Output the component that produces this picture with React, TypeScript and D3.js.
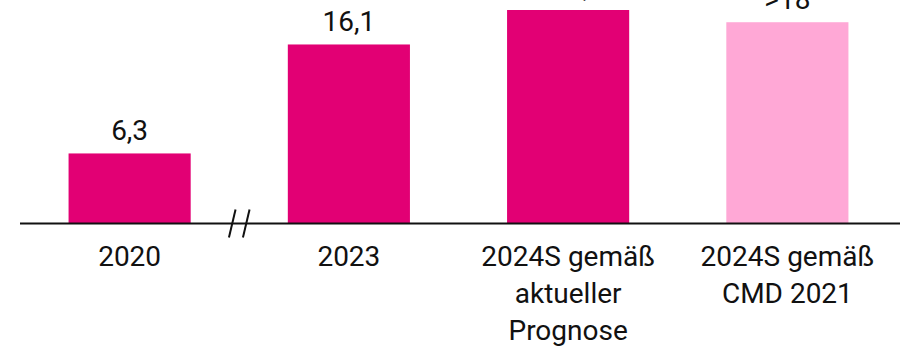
import React from "react";
import * as d3 from "d3";

const categories: string[][] = [
  ["2020"],
  ["2023"],
  ["2024S gemäß", "aktueller", "Prognose"],
  ["2024S gemäß", "CMD 2021"],
];
const values: number[] = [6.3, 16.1, 19.2, 18.1];
const valueLabels: string[] = ["6,3", "16,1", "~19,2", ">18"];
const barColors: string[] = ["#E20074", "#E20074", "#E20074", "#FFA8D6"];

const W = 900;
const H = 346;
const baseY = 223.5;
const FONT = "Roboto, 'Noto Sans', sans-serif";

export default function App() {
  const x = d3
    .scaleBand<number>()
    .domain(d3.range(categories.length))
    .range([20, 897])
    .paddingInner(0.443)
    .paddingOuter(0.2215);
  const y = d3.scaleLinear().domain([0, 19.2]).range([baseY, 10]);
  const bw = x.bandwidth();
  const breakX = (x(0)! + bw + x(1)!) / 2;

  return (
    <svg
      width={W}
      height={H}
      style={{ position: "absolute", left: 0, top: 0, display: "block" }}
      fontFamily={FONT}
    >
      <rect width={W} height={H} fill="#fff" />
      {values.map((v, i) => (
        <g key={i}>
          <rect
            x={x(i)!}
            y={y(v)}
            width={bw}
            height={baseY - y(v)}
            fill={barColors[i]}
          />
          <text
            x={x(i)! + bw / 2}
            y={y(v) - 13}
            textAnchor="middle"
            fontSize={28}
            fill="#111"
          >
            {valueLabels[i]}
          </text>
          <text
            x={x(i)! + bw / 2}
            y={266}
            textAnchor="middle"
            fontSize={28}
            fill="#111"
          >
            {categories[i].map((line, j) => (
              <tspan key={j} x={x(i)! + bw / 2} dy={j === 0 ? 0 : 37}>
                {line}
              </tspan>
            ))}
          </text>
        </g>
      ))}
      <line x1={20} x2={900} y1={baseY} y2={baseY} stroke="#111" strokeWidth={2} />
      {[-7, 7].map((dx, k) => (
        <line
          key={k}
          x1={breakX + dx + 3.3}
          y1={baseY - 14}
          x2={breakX + dx - 3.3}
          y2={baseY + 14}
          stroke="#111"
          strokeWidth={2}
        />
      ))}
    </svg>
  );
}
